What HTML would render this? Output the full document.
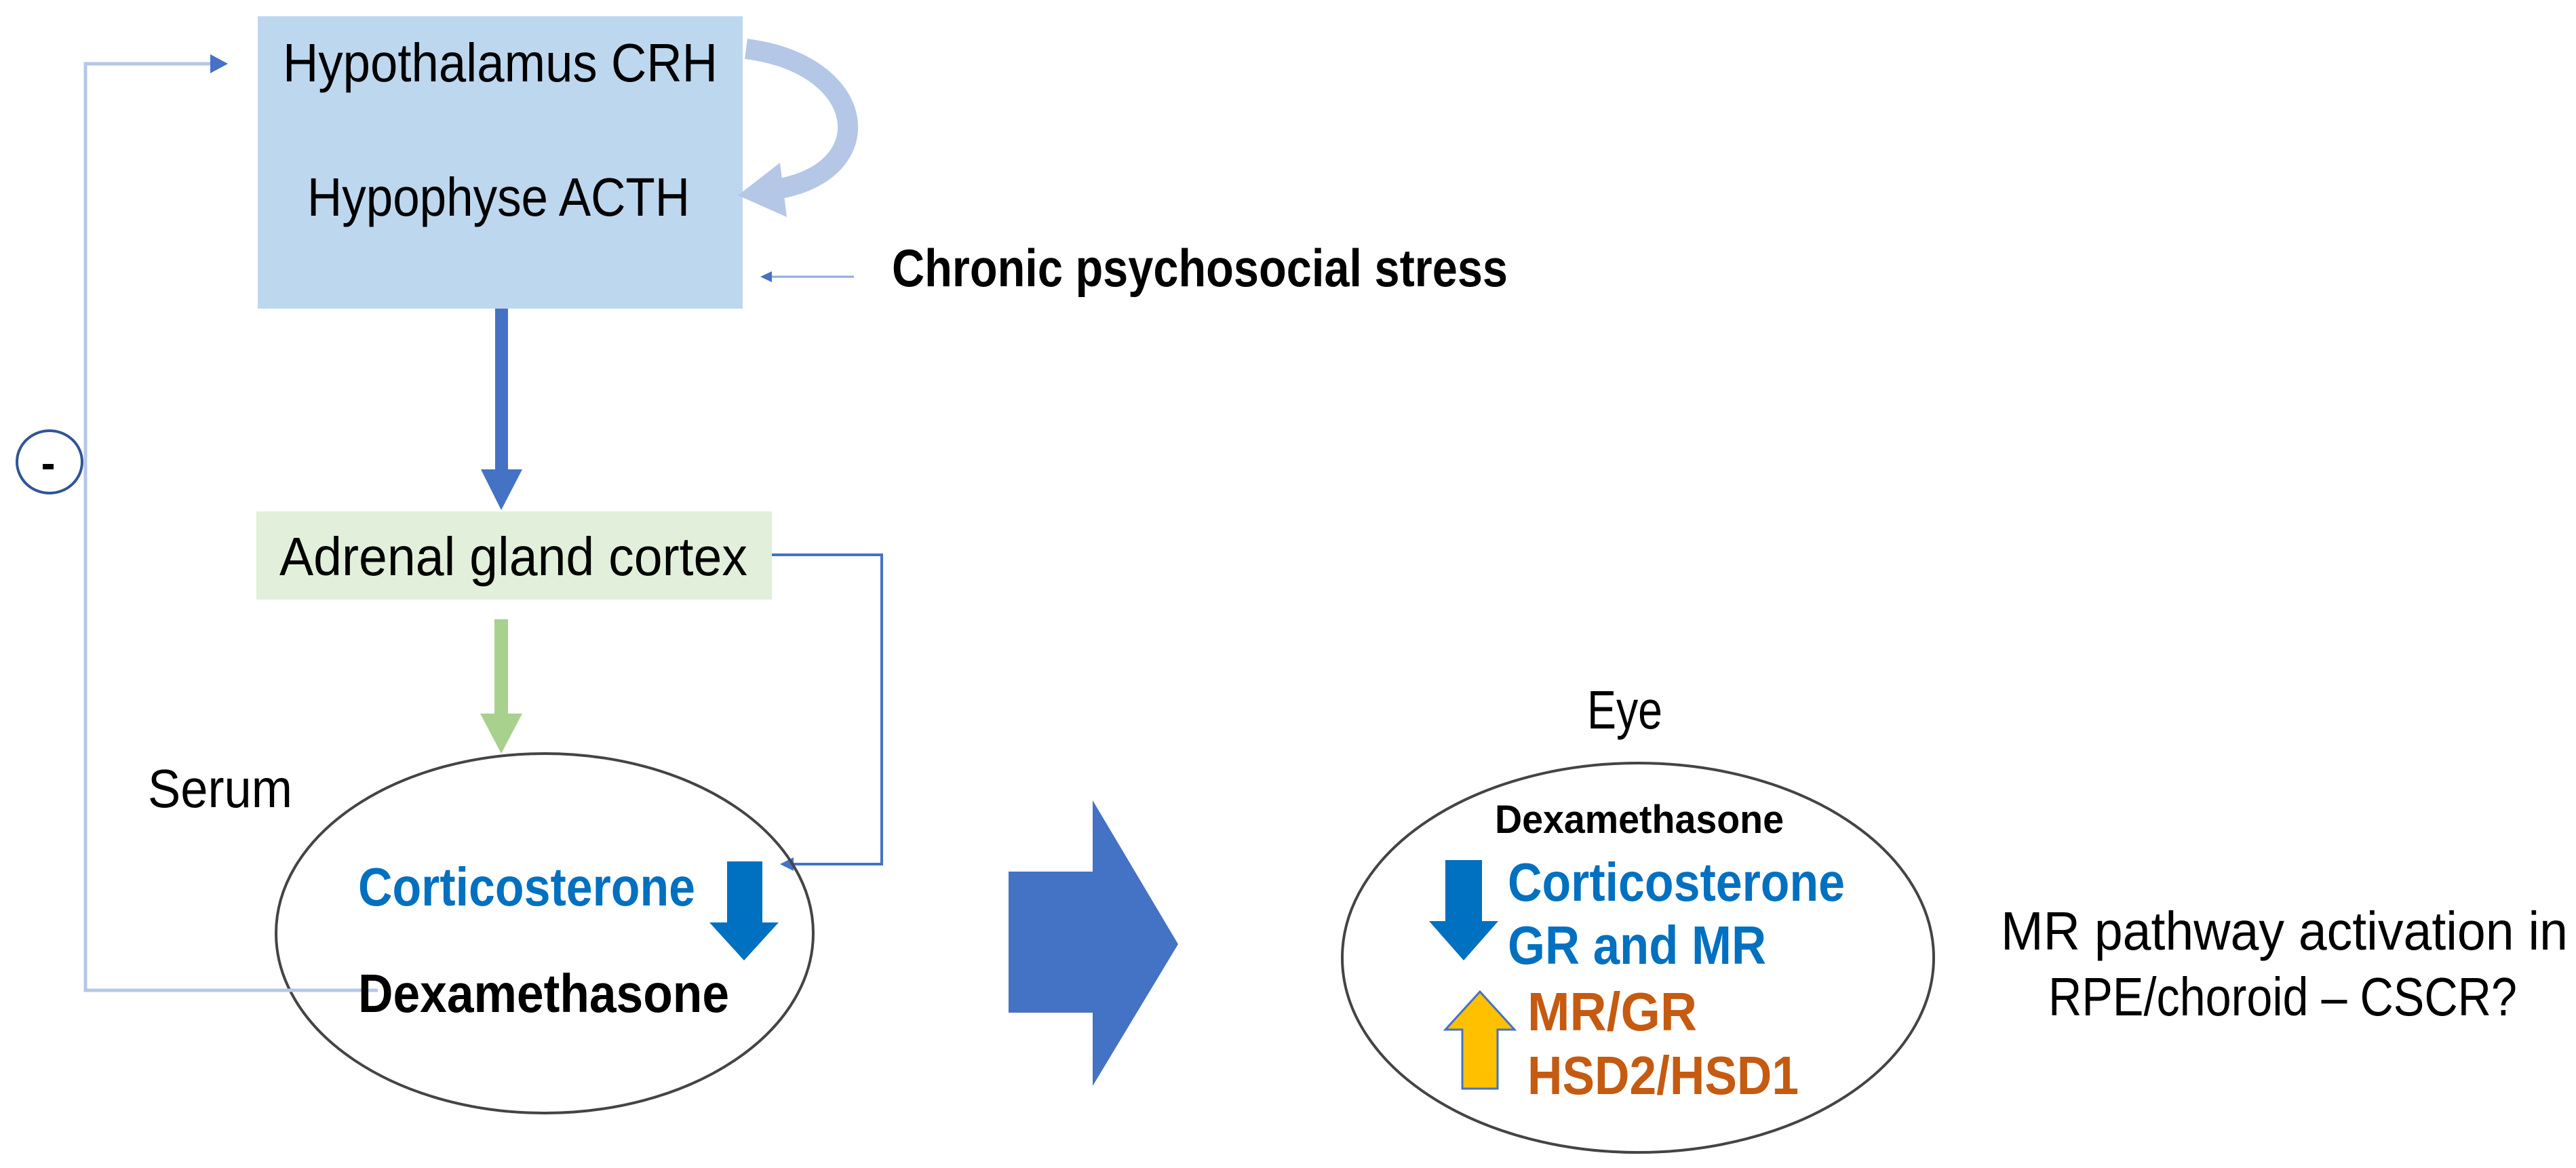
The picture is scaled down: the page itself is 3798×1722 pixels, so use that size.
<!DOCTYPE html>
<html><head><meta charset="utf-8"><style>html,body{margin:0;padding:0;background:#fff}svg{display:block}</style></head>
<body>
<svg width="3798" height="1722" viewBox="0 0 3798 1722" xmlns="http://www.w3.org/2000/svg" font-family="Liberation Sans, sans-serif">
<defs>
<linearGradient id="g1" x1="0" x2="1" y1="0" y2="0"><stop offset="0" stop-color="#c5d4ee"/><stop offset="1" stop-color="#4472c4"/></linearGradient>
</defs>
<!-- blue box -->
<rect x="380" y="24" width="715" height="431" fill="#BDD7EE"/>
<text x="417" y="120" font-size="80" textLength="641" lengthAdjust="spacingAndGlyphs">Hypothalamus CRH</text>
<text x="453" y="318" font-size="80" textLength="564" lengthAdjust="spacingAndGlyphs">Hypophyse ACTH</text>
<!-- curved arrow -->
<path d="M1100 72 C1280 95 1300 250 1150 278" fill="none" stroke="#B4C7E7" stroke-width="30"/>
<polygon points="1088,288 1150,240 1160,320" fill="#B4C7E7"/>
<!-- stress -->
<line x1="1259" y1="408" x2="1135" y2="408" stroke="#8faadc" stroke-width="3"/>
<polygon points="1121,408 1138,400 1138,416" fill="#4472c4"/>
<text x="1315" y="422" font-size="78" font-weight="bold" textLength="908" lengthAdjust="spacingAndGlyphs">Chronic psychosocial stress</text>
<!-- blue down arrow -->
<rect x="730" y="455" width="19" height="240" fill="#4472C4"/>
<polygon points="709,692 770,692 739,752" fill="#4472C4"/>
<!-- green box -->
<rect x="378" y="754" width="760" height="130" fill="#E2EFDA"/>
<text x="412" y="848" font-size="80" textLength="690" lengthAdjust="spacingAndGlyphs">Adrenal gland cortex</text>
<!-- connector from adrenal -->
<polyline points="1138,818 1300,818 1300,1274 1165,1274" fill="none" stroke="#4472c4" stroke-width="4"/>
<polygon points="1150,1274 1170,1264 1170,1284" fill="#4472c4"/>
<!-- green arrow -->
<rect x="729" y="913" width="20" height="142" fill="#A9D18E"/>
<polygon points="708,1052 770,1052 739,1111" fill="#A9D18E"/>
<!-- serum -->
<text x="218" y="1190" font-size="80" textLength="213" lengthAdjust="spacingAndGlyphs">Serum</text>
<ellipse cx="803" cy="1376" rx="396" ry="265" fill="none" stroke="#444" stroke-width="4"/>
<text x="528" y="1335" font-size="80" font-weight="bold" fill="#0070C0" textLength="497" lengthAdjust="spacingAndGlyphs">Corticosterone</text>
<rect x="1072" y="1270" width="52" height="92" fill="#0070C0"/>
<polygon points="1046,1360 1148,1360 1097,1416" fill="#0070C0"/>
<!-- feedback line -->
<polyline points="557,1460 126,1460 126,94 320,94" fill="none" stroke="#b4c7e7" stroke-width="5"/>
<line x1="230" y1="1460" x2="557" y2="1460" stroke="url(#g1)" stroke-width="5"/>
<polygon points="336,94 310,80 310,108" fill="#4472c4"/>
<text x="528" y="1492" font-size="80" font-weight="bold" textLength="547" lengthAdjust="spacingAndGlyphs">Dexamethasone</text>
<ellipse cx="73" cy="681" rx="48" ry="46" fill="#fff" stroke="#2f5597" stroke-width="4"/>
<rect x="63" y="684" width="16" height="8" fill="#000"/>
<!-- big arrow -->
<polygon points="1487,1285 1611,1285 1611,1180 1737,1392 1611,1601 1611,1493 1487,1493" fill="#4472C4"/>
<!-- eye -->
<text x="2340" y="1074" font-size="80" textLength="111" lengthAdjust="spacingAndGlyphs">Eye</text>
<ellipse cx="2415" cy="1412" rx="436" ry="287" fill="none" stroke="#444" stroke-width="4"/>
<text x="2204" y="1228" font-size="58" font-weight="bold" textLength="426" lengthAdjust="spacingAndGlyphs">Dexamethasone</text>
<rect x="2131" y="1268" width="54" height="92" fill="#0070C0"/>
<polygon points="2107,1358 2209,1358 2158,1416" fill="#0070C0"/>
<text x="2223" y="1328" font-size="80" font-weight="bold" fill="#0070C0" textLength="497" lengthAdjust="spacingAndGlyphs">Corticosterone</text>
<text x="2223" y="1421" font-size="80" font-weight="bold" fill="#0070C0" textLength="381" lengthAdjust="spacingAndGlyphs">GR and MR</text>
<polygon points="2182,1462 2233,1518 2208,1518 2208,1605 2156,1605 2156,1518 2131,1518" fill="#FFC000" stroke="#4472c4" stroke-width="3"/>
<text x="2252" y="1519" font-size="80" font-weight="bold" fill="#C55A11" textLength="250" lengthAdjust="spacingAndGlyphs">MR/GR</text>
<text x="2252" y="1613" font-size="80" font-weight="bold" fill="#C55A11" textLength="400" lengthAdjust="spacingAndGlyphs">HSD2/HSD1</text>
<!-- right text -->
<text x="2950" y="1400" font-size="80" textLength="836" lengthAdjust="spacingAndGlyphs">MR pathway activation in</text>
<text x="3020" y="1497" font-size="80" textLength="691" lengthAdjust="spacingAndGlyphs">RPE/choroid – CSCR?</text>
</svg>
</body></html>
